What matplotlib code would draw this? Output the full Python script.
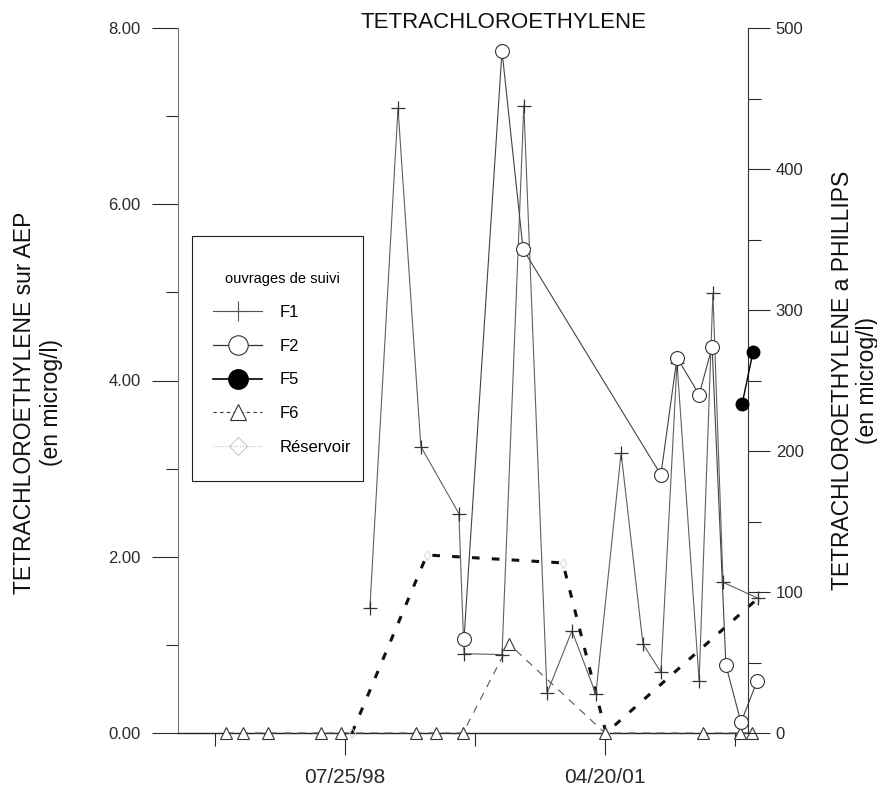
import numpy as np
import matplotlib
matplotlib.use("Agg")
import matplotlib.pyplot as plt
import matplotlib.dates as mdates
from matplotlib.lines import Line2D
from matplotlib.patches import Rectangle
from matplotlib.ticker import FixedLocator, FormatStrFormatter, MultipleLocator

plt.rcParams['font.family'] = ['Liberation Sans', 'DejaVu Sans']

# ------------------------------------------------------------------
# data (left axis in microg/l, F5 on the
# right "PHILLIPS" axis)
# ------------------------------------------------------------------
f1_dates = ['1998-10-29', '1999-02-14', '1999-05-13', '1999-10-06', '1999-10-26',
            '2000-03-20', '2000-06-12', '2000-09-09', '2000-12-14', '2001-03-16',
            '2001-06-21', '2001-09-13', '2001-11-21', '2002-01-22', '2002-04-17',
            '2002-06-09', '2002-07-18', '2002-11-29']
f1_vals = [1.42, 7.09, 3.25, 2.49, 0.90, 0.89, 7.12, 0.45, 1.16, 0.44,
           3.18, 1.01, 0.69, 4.20, 0.59, 4.99, 1.71, 1.53]

f2_dates = ['1999-10-26', '2000-03-20', '2000-06-09', '2001-11-21', '2002-01-22',
            '2002-04-17', '2002-06-06', '2002-07-29', '2002-09-25', '2002-11-26']
f2_vals = [1.07, 7.74, 5.49, 2.93, 4.26, 3.84, 4.38, 0.77, 0.12, 0.59]

f5_dates = ['2002-09-29', '2002-11-10']
f5_vals = [233, 270]

f6_dates = ['1997-04-23', '1997-06-28', '1997-10-02', '1998-04-24', '1998-07-10',
            '1999-04-24', '1999-07-10', '1999-10-22', '2000-04-16', '2001-04-20',
            '2002-05-02', '2002-09-21', '2002-11-06']
f6_vals = [0, 0, 0, 0, 0, 0, 0, 0, 1.01, 0, 0, 0, 0]

res_dates = ['1998-08-21', '1999-06-05', '2000-11-09', '2001-04-24', '2002-11-26']
res_vals = [0.0, 2.02, 1.93, 0.0, 1.52]

legend_labels = ['F1', 'F2', 'F5', 'F6', 'Réservoir']

# axis layout
base = np.datetime64('1998-07-25')
x_lo = base + np.timedelta64(-642, 'D')
x_hi = base + np.timedelta64(1550, 'D')
major_x = base + np.array([0, 1000]).astype('timedelta64[D]')
minor_x = base + np.array([-500, 500, 1500]).astype('timedelta64[D]')

W, H = 878, 788


def d(lst):
    return np.array(lst, dtype='datetime64[D]')


fig = plt.figure(figsize=(W / 100, H / 100), dpi=100)
ax = fig.add_axes([178 / W, 1 - 733 / H, (748 - 178) / W, (733 - 28) / H])
ax2 = ax.twinx()

ink = '#2a2a2a'

ax.plot(d(res_dates), res_vals, color='#111111', lw=2.2, dashes=(2.5, 4),
        marker='d', ms=5, mfc='none', mec='#d0d0d0', mew=0.6, clip_on=False, zorder=3)
ax.plot(d(f6_dates), f6_vals, color='#555555', lw=0.8, dashes=(7, 6),
        marker='^', ms=8, mfc='white', mec='#333333', mew=0.8, clip_on=False, zorder=4)
ax.plot(d(f1_dates), f1_vals, color='#606060', lw=0.8,
        marker='+', ms=10, mew=0.9, mec='#333333', clip_on=False, zorder=5)
ax.plot(d(f2_dates), f2_vals, color='#444444', lw=0.8,
        marker='o', ms=10, mfc='white', mec='#333333', mew=0.8, clip_on=False, zorder=6)
ax2.plot(d(f5_dates), f5_vals, color='black', lw=1.0,
         marker='o', ms=9, mfc='black', clip_on=False, zorder=6)

# x axis
ax.set_xlim(x_lo, x_hi)
ax.xaxis.set_major_locator(FixedLocator(mdates.date2num(major_x)))
ax.xaxis.set_minor_locator(FixedLocator(mdates.date2num(minor_x)))
ax.xaxis.set_major_formatter(mdates.DateFormatter('%m/%d/%y'))
ax.tick_params(axis='x', which='major', direction='out', length=16, width=0.8,
               pad=9, labelsize=15, colors=ink)
ax.tick_params(axis='x', which='minor', direction='out', length=9, width=0.8, colors=ink)

# left y axis
ax.set_ylim(0, 8)
ax.yaxis.set_major_locator(MultipleLocator(2))
ax.yaxis.set_minor_locator(MultipleLocator(1))
ax.yaxis.set_major_formatter(FormatStrFormatter('%.2f'))
ax.tick_params(axis='y', which='major', direction='out', length=19, width=0.8,
               pad=8, labelsize=12, colors=ink)
ax.tick_params(axis='y', which='minor', direction='out', length=9, width=0.8, colors=ink)

# right y axis
ax2.set_ylim(0, 500)
ax2.yaxis.set_major_locator(MultipleLocator(100))
ax2.yaxis.set_minor_locator(MultipleLocator(50))
ax2.tick_params(axis='y', which='major', direction='out', length=16, width=0.8,
                pad=4, labelsize=12, colors=ink)
ax2.tick_params(axis='y', which='minor', direction='out', length=9, width=0.8, colors=ink)

for a in (ax, ax2):
    a.spines['top'].set_visible(False)
    a.patch.set_visible(False)
ax.spines['right'].set_visible(False)
ax2.spines['left'].set_visible(False)
ax2.spines['bottom'].set_visible(False)
ax.spines['left'].set_color('#777777')
ax.spines['left'].set_linewidth(0.8)
ax.spines['bottom'].set_color('#222222')
ax.spines['bottom'].set_linewidth(1.0)
ax2.spines['right'].set_color('#333333')
ax2.spines['right'].set_linewidth(0.8)

# titles and axis labels
fig.text(504 / W, 1 - 22 / H, 'TETRACHLOROETHYLENE', ha='center', va='center',
         fontsize=16, color='#111111')
fig.text(25 / W, 1 - 403 / H, 'TETRACHLOROETHYLENE sur AEP', rotation=90,
         ha='center', va='center', fontsize=16.5, color='#111111')
fig.text(52 / W, 1 - 403 / H, '(en microg/l)', rotation=90,
         ha='center', va='center', fontsize=16.5, color='#111111')
fig.text(843 / W, 1 - 380 / H, 'TETRACHLOROETHYLENE a PHILLIPS', rotation=90,
         ha='center', va='center', fontsize=16.5, color='#111111')
fig.text(868 / W, 1 - 380 / H, '(en microg/l)', rotation=90,
         ha='center', va='center', fontsize=16.5, color='#111111')

# legend box drawn separately so its size matches the scan
box = Rectangle((192 / W, 1 - 481 / H), (363 - 192) / W, (481 - 236) / H,
                transform=fig.transFigure, facecolor='white',
                edgecolor='#222222', lw=0.8, zorder=8, clip_on=False)
ax2.add_artist(box)

handles = [
    Line2D([], [], color='#555555', lw=0.8, marker='+', ms=15, mew=0.8),
    Line2D([], [], color='#333333', lw=0.9, marker='o', ms=14, mfc='white', mew=0.8),
    Line2D([], [], color='black', lw=1.2, marker='o', ms=14),
    Line2D([], [], color='#333333', lw=0.8, dashes=(3, 3), marker='^', ms=12,
           mfc='white', mew=0.8),
    Line2D([], [], color='#bbbbbb', lw=0.8, ls=':', marker='D', ms=9,
           mfc='none', mew=0.6),
]
leg = ax2.legend(handles, legend_labels, title='ouvrages de suivi',
                 loc='upper left', bbox_to_anchor=(213 / W, 1 - 272 / H),
                 bbox_transform=fig.transFigure, frameon=False,
                 borderpad=0, borderaxespad=0, labelspacing=1.13,
                 handlelength=2.95, handletextpad=1.05, fontsize=12,
                 title_fontsize=10.5)
leg.set_zorder(9)

fig.savefig('out.png', dpi=100)
